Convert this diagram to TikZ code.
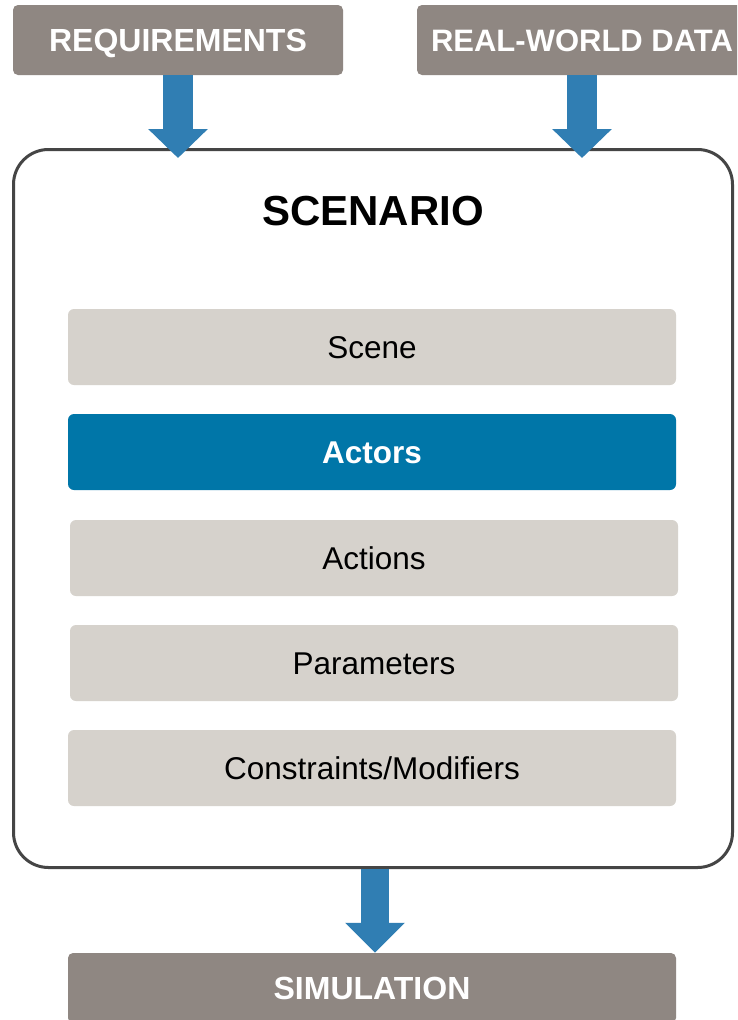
\documentclass[tikz,border=0pt]{standalone}
\usepackage{fontspec}
\setmainfont{Liberation Sans}
\usetikzlibrary{arrows.meta}
\definecolor{hdrgray}{HTML}{8F8782}
\definecolor{layergray}{HTML}{D6D2CC}
\definecolor{actorblue}{HTML}{0076A8}
\definecolor{flowblue}{HTML}{307EB3}
\definecolor{framegray}{HTML}{454545}
\begin{document}
\begin{tikzpicture}[x=1pt,y=-1pt,
  hdr/.style={fill=hdrgray, rounded corners=5pt, text=white,
    font=\fontsize{32}{32}\selectfont\bfseries,
    minimum width=330pt, minimum height=70pt, inner sep=0pt,
    text height=23pt, text depth=0pt},
  layer/.style={fill=layergray, rounded corners=6pt,
    font=\fontsize{31.5}{31.5}\selectfont,
    minimum width=608pt, minimum height=76pt, inner sep=0pt,
    text height=22.5pt, text depth=0pt},
  frame/.style={draw=framegray, line width=3pt, rounded corners=35pt,
    minimum width=719pt, minimum height=718pt, inner sep=0pt},
  flow/.style={draw=flowblue, line width=30pt, -{Triangle[width=58pt,length=29pt]}},
  flowout/.style={draw=flowblue, line width=28pt, -{Triangle[width=58pt,length=30pt]}}]
\useasboundingbox (0,0) rectangle (737,1020);
\clip (0,0) rectangle (737,1020);
\fill[white] (0,0) rectangle (737,1020);

% inputs
\node[hdr] (req) at (178,40) {REQUIREMENTS};
\node[hdr, font=\fontsize{31}{31}\selectfont\bfseries, text height=22.5pt] (rwd) at (582,40) {REAL-WORLD DATA};

% scenario container and its layers
\node[frame] (scen) at (373,508.5) {};
\node[font=\fontsize{42}{42}\selectfont\bfseries] (title) at (373,211) {SCENARIO};
\node[layer] (scene) at (372,347) {Scene};
\node[layer, fill=actorblue, text=white, font=\fontsize{31.5}{31.5}\selectfont\bfseries] (actors) at (372,452) {Actors};
\node[layer] (actions) at (374,558) {Actions};
\node[layer] (params) at (374,663) {Parameters};
\node[layer] (constr) at (372,768) {Constraints/Modifiers};

% output
\node[hdr, minimum width=608pt] (sim) at (372,988) {SIMULATION};

% flow arrows
\draw[flow] (req.south) -- ([yshift=-10pt]req.south |- scen.north);
\draw[flow] (rwd.south) -- ([yshift=-10pt]rwd.south |- scen.north);
\draw[flowout] ([xshift=2pt]scen.south) -- ([xshift=2pt]scen.south |- sim.north);
\end{tikzpicture}
\end{document}
